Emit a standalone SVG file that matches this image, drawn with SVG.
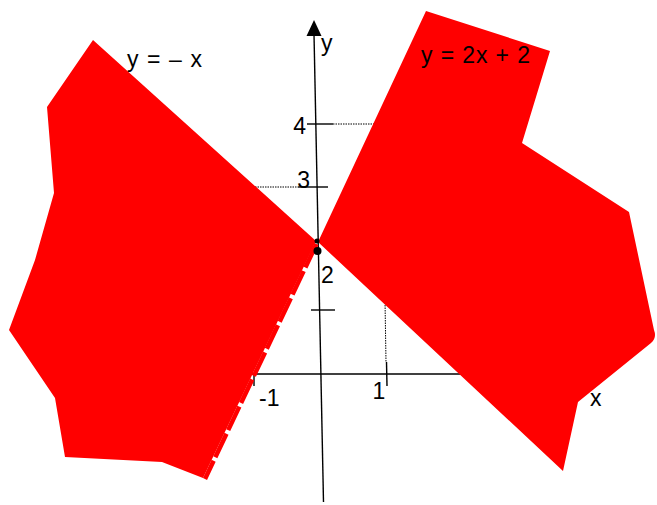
<svg xmlns="http://www.w3.org/2000/svg" width="657" height="505" viewBox="0 0 657 505">
<style>
.ax{stroke:#000;stroke-width:1.4;fill:none}
.dt{stroke:#000;stroke-width:1;stroke-dasharray:1.5 1;fill:none}
.reg{fill:#ff0000;stroke:none}
text{font-family:"Liberation Sans",Arial,sans-serif;font-size:23px;fill:#000}
</style>
<rect width="657" height="505" fill="#fff"/>
<g id="axes">
  <line class="ax" x1="314" y1="34" x2="323.5" y2="502"/>
  <polygon points="314,20 306.5,36 321.5,36" fill="#000"/>
  <line class="ax" x1="200" y1="374" x2="580" y2="374"/>
  <line class="ax" x1="307" y1="124" x2="333" y2="124"/>
  <line class="ax" x1="298" y1="187" x2="328" y2="187"/>
  <line class="ax" x1="311" y1="310" x2="335" y2="310"/>
  <line class="ax" x1="386.5" y1="362" x2="387" y2="386"/>
  <line class="ax" x1="254" y1="374" x2="254" y2="386"/>
  <line class="dt" x1="333" y1="124" x2="380" y2="124"/>
  <line class="dt" x1="250" y1="187" x2="298" y2="187"/>
  <line class="dt" x1="385" y1="300" x2="386" y2="362"/>
</g>
<g id="region-left">
  <polygon class="reg" points="93,40 316,241 203,478 162,462 65,457 55,398 9,330 35,260 54,193 47,107"/>
  <line x1="316.5" y1="244" x2="205" y2="479" stroke="#ff0000" stroke-width="4.5" stroke-dasharray="26 4"/>
</g>
<g id="region-right">
  <path class="reg" d="M318,242 L426,11 L550,51 L522,143 L629,212 L654,330 Q657,338 651,343 L578,402 L563,471 Z"/>
</g>
<g id="points">
  <circle cx="317.5" cy="251" r="4" fill="#000"/>
  <circle cx="317" cy="241" r="2.5" fill="#000"/>
</g>
<g id="labels">
  <text x="321" y="51">y</text>
  <text x="127" y="67" textLength="75" lengthAdjust="spacing">y = – x</text>
  <text x="421" y="63" textLength="109" lengthAdjust="spacing">y = 2x + 2</text>
  <text x="306" y="134" text-anchor="end">4</text>
  <text x="310" y="188" text-anchor="end">3</text>
  <text x="321" y="283">2</text>
  <text x="379" y="399" text-anchor="middle">1</text>
  <text x="259" y="406">-1</text>
  <text x="590" y="406">x</text>
</g>
</svg>
